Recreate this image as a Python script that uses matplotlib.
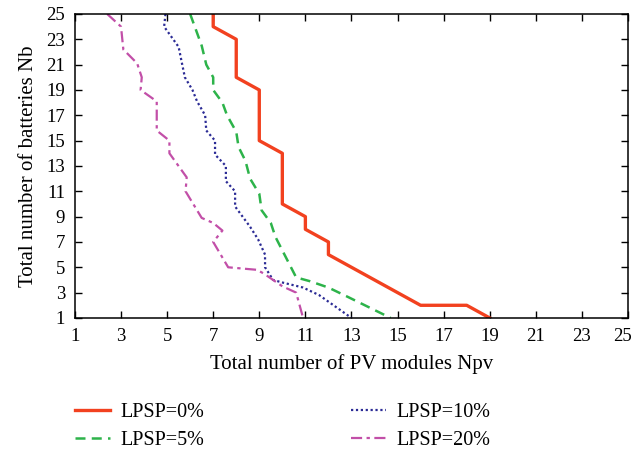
import numpy as np
import matplotlib.pyplot as plt
from matplotlib.transforms import ScaledTranslation

plt.rcParams['font.family'] = ['Liberation Serif', 'DejaVu Serif']

# Minimum number of PV modules for each battery count, per LPSP level
npv_0 = [7, 7, 8, 8, 9, 9, 10, 10, 11, 11, 12, 12, 16, 18, 19]
nb_0 = [25, 24, 23, 20, 19, 15, 14, 10, 9, 8, 7, 6, 2, 2, 1]

npv_5 = [6, 6.2, 6.5, 6.7, 7, 7, 7.4, 7.6, 8, 8.1, 8.4, 8.6, 9, 9.1, 9.5, 9.7,
         10.6, 11.2, 12, 12.8, 14.7]
nb_5 = [25, 24, 22.5, 21, 20, 19, 18, 17, 15.7, 14.5, 13.4, 12, 10.8, 9.5, 8.5,
        7.4, 4.2, 3.9, 3.4, 2.7, 1]

npv_10 = [4.93, 4.87, 5.5, 5.6, 5.77, 6.1, 6.3, 6.65, 6.7, 7.08, 7.08, 7.55,
          7.55, 7.95, 7.95, 8.6, 8.95, 9.25, 9.25, 9.6, 10, 10.9, 11.6, 13]
nb_10 = [25, 24, 22.4, 21.5, 20, 19, 18.1, 17, 15.8, 15, 13.9, 13, 11.8, 11,
         9.8, 8.2, 7.2, 6, 5, 4, 3.8, 3.4, 2.8, 1]

npv_20 = [2.4, 3, 3.1, 3.7, 3.9, 3.85, 4.55, 4.55, 5.1, 5.1, 5.85, 5.8, 6.5, 7,
          7.4, 7, 7.65, 8.9, 9.2, 10, 10.6, 10.9]
nb_20 = [25, 24, 22.2, 21.1, 20, 19, 18.1, 15.8, 15, 14, 12.1, 11, 8.9, 8.5,
         7.9, 7, 5, 4.8, 4.5, 3.5, 3, 1]

ticks = np.arange(1, 26, 2)

fig = plt.figure(figsize=(6.35, 4.51), dpi=100)
ax = fig.add_axes([0.118, 0.295, 0.871, 0.674])

l0, = ax.plot(npv_0, nb_0, color='#F2411F', lw=2.4, label='LPSP=0%')
l5, = ax.plot(npv_5, nb_5, color='#2DB34A', lw=1.8, ls=(0, (4, 2.5)), label='LPSP=5%')
l10, = ax.plot(npv_10, nb_10, color='#2B2B95', lw=1.6, ls=(0, (1, 1.2)), label='LPSP=10%')
l20, = ax.plot(npv_20, nb_20, color='#C24FA8', lw=1.6, ls=(0, (5, 2, 1.5, 2)), label='LPSP=20%')

ax.set_xlim(1, 25)
ax.set_ylim(1, 25)
ax.set_xticks(ticks)
ax.set_yticks(ticks)
ax.tick_params(direction='in', top=True, right=True, length=5, width=1,
               labelsize=13.5, pad=7)
for s in ax.spines.values():
    s.set_linewidth(1.1)
ax.set_xlabel('Total number of PV modules Npv', fontsize=15, labelpad=7)
ax.set_ylabel('Total number of batteries Nb', fontsize=15, labelpad=6)

# nudge the last x tick label so it stays inside the figure
last = ax.get_xticklabels()[-1]
last.set_transform(last.get_transform() +
                   ScaledTranslation(-4 / 72, 0, fig.dpi_scale_trans))

fig.legend(handles=[l0, l5, l10, l20], loc='upper left', ncol=2,
           bbox_to_anchor=(0.105, 0.125), frameon=False, fontsize=14.5,
           handlelength=1.75, handletextpad=0.5, columnspacing=7.3,
           labelspacing=0.45, borderaxespad=0)

fig.savefig('out.png', dpi=100)
